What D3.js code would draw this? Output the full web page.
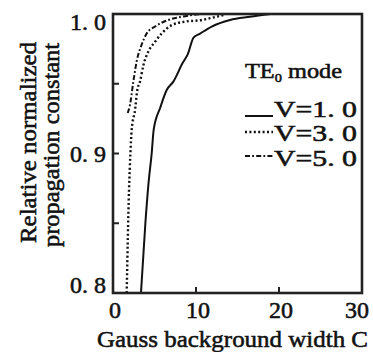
<!DOCTYPE html>
<html>
<head>
<meta charset="utf-8">
<script src="https://cdn.jsdelivr.net/npm/d3@7"></script>
<style>
  html, body { margin: 0; padding: 0; background: #fff; }
  svg { display: block; }
  text { font-family: "Liberation Serif", "Times New Roman", serif; font-weight: normal; fill: #111; stroke: #111; stroke-width: 0.55px; }
</style>
</head>
<body>
<svg id="chart" width="373" height="352"></svg>
<script>
// ---- data ----
const xTickValues = [0, 10, 20, 30];
const xTickLabels = ["0", "10", "20", "30"];
const yTickValues = [0.8, 0.9, 1.0];
const yTickLabels = ["0. 8", "0. 9", "1. 0"];
const yMinorTicks = [0.85, 0.9, 0.95];
const xInnerTicks = [10, 20];

const seriesNames = ["V=1. 0", "V=3. 0", "V=5. 0"];
const cV1 = [3.37, 3.9, 4.3, 4.66, 4.9, 5.7, 6.47, 7.27, 8.4, 9.0, 9.7, 10.5, 11.9, 14.1, 16.5, 19.0];
const bV1 = [0.8, 0.85, 0.88, 0.9, 0.917, 0.933, 0.9455, 0.9515, 0.965, 0.971, 0.983, 0.986, 0.991, 0.9957, 0.998, 1.0];
const cV3 = [1.65, 1.93, 2.1, 2.25, 2.65, 2.93, 3.25, 3.65, 4.25, 5.06, 5.86, 7.07, 8.67, 10.7, 11.7, 13.5];
const bV3 = [0.8, 0.874, 0.9, 0.917, 0.931, 0.9455, 0.9515, 0.963, 0.973, 0.98, 0.986, 0.992, 0.9945, 0.9957, 0.997, 0.9995];
const cV5 = [1.77, 2.05, 2.45, 2.85, 3.45, 4.06, 5.06, 6.66, 8.27, 10.5];
const bV5 = [0.929, 0.935, 0.9515, 0.966, 0.978, 0.986, 0.991, 0.9957, 0.998, 1.0];

const legendTitle = "TE";
const legendSub = "0";
const legendTitleRest = " mode";
const xTitle = "Gauss background width C";
const yTitle1 = "Relative normalized";
const yTitle2 = "propagation constant";

// ---- layout ----
const L = 113, R = 362, T = 14, B = 293;
const svg = d3.select("#chart");
const x = d3.scaleLinear().domain([0, 30]).range([L, R]);
const y = d3.scaleLinear().domain([0.8, 1.0]).range([B, T]);

const series = [
  { name: seriesNames[0], pts: cV1.map((c, i) => [c, bV1[i]]), dash: null, width: 2 },
  { name: seriesNames[1], pts: cV3.map((c, i) => [c, bV3[i]]), dash: "2,2.4", width: 2.4 },
  { name: seriesNames[2], pts: cV5.map((c, i) => [c, bV5[i]]), dash: "5,2.2,1.8,2.2", width: 2 }
];

const line = d3.line().x(d => x(d[0])).y(d => y(d[1])).curve(d3.curveMonotoneX);

svg.append("clipPath").attr("id", "clip")
  .append("rect").attr("x", L).attr("y", T - 1).attr("width", R - L).attr("height", B - T + 1);

svg.append("g").attr("clip-path", "url(#clip)")
  .selectAll("path").data(series).join("path")
  .attr("d", d => line(d.pts))
  .attr("fill", "none")
  .attr("stroke", "#111")
  .attr("stroke-width", d => d.width)
  .attr("stroke-dasharray", d => d.dash);

// frame
svg.append("rect").attr("x", L).attr("y", T).attr("width", R - L).attr("height", B - T)
  .attr("fill", "none").attr("stroke", "#222").attr("stroke-width", 2.6);

// ticks (inward)
svg.append("g").selectAll("line").data(yMinorTicks).join("line")
  .attr("x1", L).attr("x2", L + 6).attr("y1", d => y(d)).attr("y2", d => y(d))
  .attr("stroke", "#222").attr("stroke-width", 2);
svg.append("g").selectAll("line").data(xInnerTicks).join("line")
  .attr("x1", d => x(d)).attr("x2", d => x(d)).attr("y1", B).attr("y2", B - 6)
  .attr("stroke", "#222").attr("stroke-width", 2);

// y tick labels
svg.append("g").selectAll("text").data(yTickValues).join("text")
  .attr("x", L - 7)
  .attr("y", d => Math.min(Math.max(y(d), T + 8), B - 8))
  .attr("dy", "0.35em")
  .attr("text-anchor", "end")
  .attr("font-size", 24)
  .text((d, i) => yTickLabels[i]);

// x tick labels
svg.append("g").selectAll("text").data(xTickValues).join("text")
  .attr("x", d => Math.min(x(d) + 2, 357))
  .attr("y", 318)
  .attr("text-anchor", "middle")
  .attr("font-size", 24)
  .text((d, i) => xTickLabels[i]);

// x title
svg.append("text").attr("x", 97).attr("y", 347).attr("font-size", 24)
  .attr("textLength", 271).attr("lengthAdjust", "spacingAndGlyphs").text(xTitle);

// y title (two lines, rotated)
svg.append("text").attr("transform", "translate(36,243) rotate(-90)")
  .attr("font-size", 24).attr("textLength", 201).attr("lengthAdjust", "spacingAndGlyphs").text(yTitle1);
svg.append("text").attr("transform", "translate(59,247) rotate(-90)")
  .attr("font-size", 24).attr("textLength", 204).attr("lengthAdjust", "spacingAndGlyphs").text(yTitle2);

// legend
const lt = svg.append("text").attr("x", 245).attr("y", 78).attr("font-size", 22)
  .attr("textLength", 97).attr("lengthAdjust", "spacingAndGlyphs");
lt.append("tspan").text(legendTitle);
lt.append("tspan").attr("font-size", 13).attr("dy", 4).text(legendSub);
lt.append("tspan").attr("dy", -4).text(legendTitleRest);

const legRows = [
  { baseline: 117, lineY: 116 },
  { baseline: 141, lineY: 132 },
  { baseline: 166, lineY: 156 }
];
series.forEach((s, i) => {
  svg.append("line").attr("x1", 245).attr("x2", 273)
    .attr("y1", legRows[i].lineY).attr("y2", legRows[i].lineY)
    .attr("stroke", "#111").attr("stroke-width", s.width).attr("stroke-dasharray", s.dash);
  svg.append("text").attr("x", 274).attr("y", legRows[i].baseline).attr("font-size", 24)
    .attr("textLength", 83).attr("lengthAdjust", "spacingAndGlyphs").text(s.name);
});
</script>
</body>
</html>
